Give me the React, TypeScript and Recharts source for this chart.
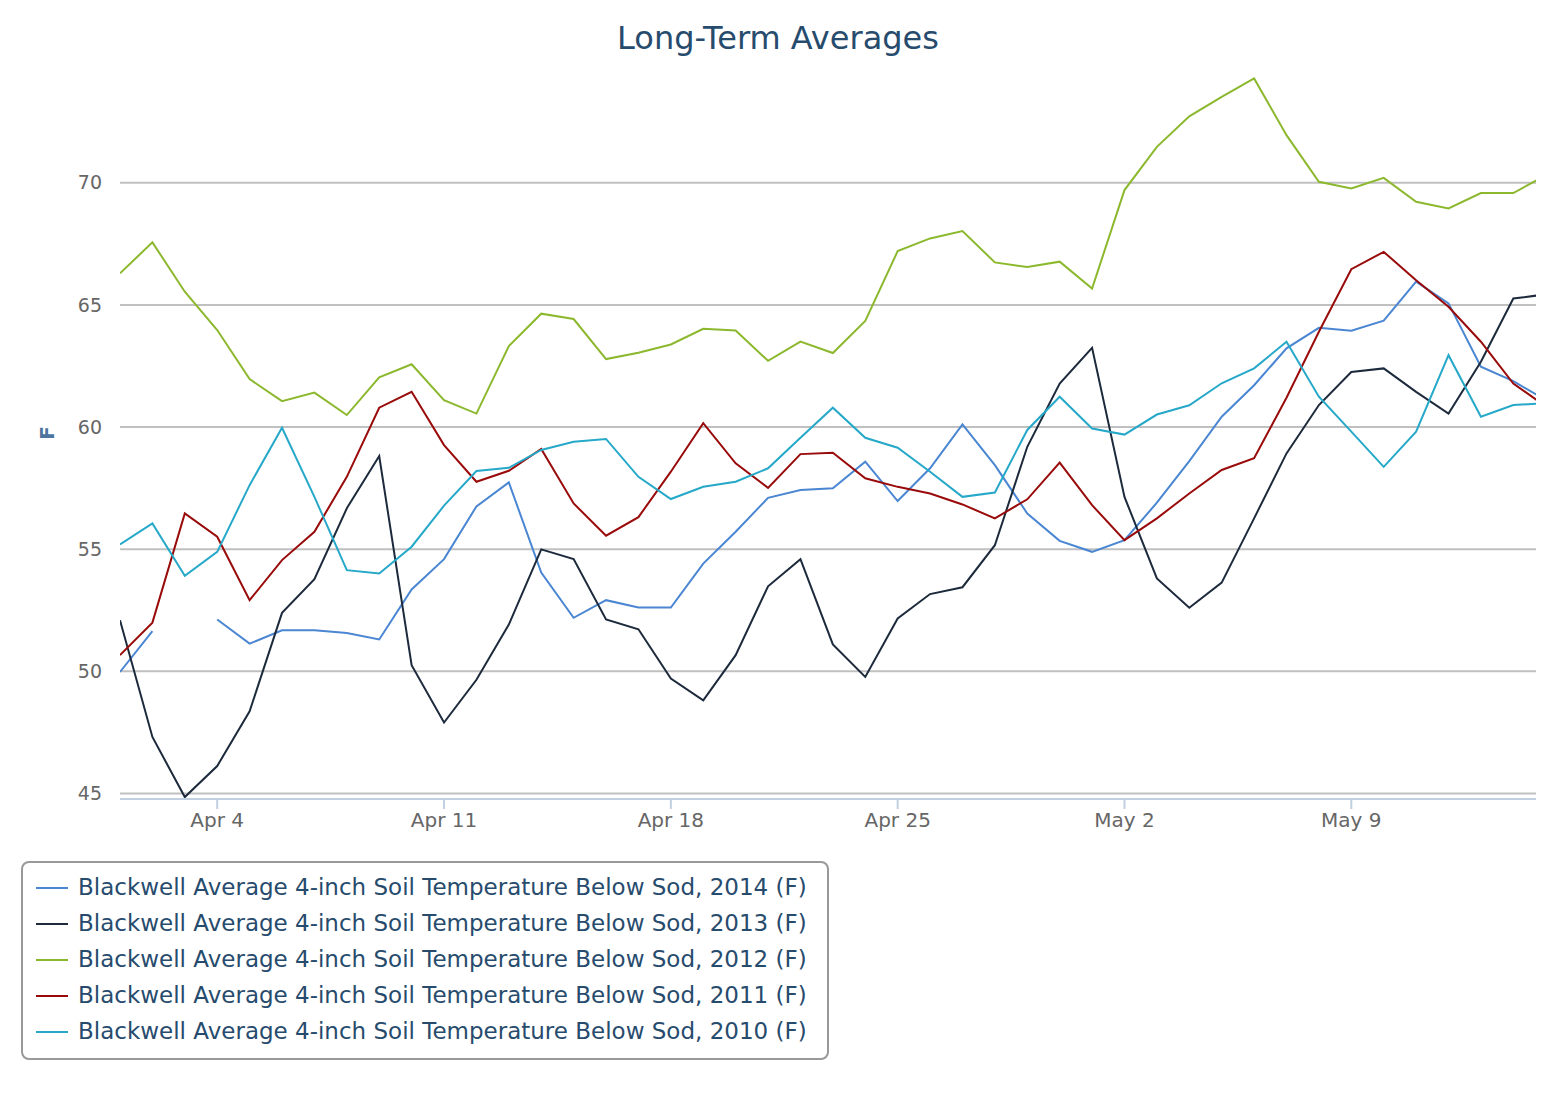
import { LineChart, Line, XAxis, YAxis, CartesianGrid } from 'recharts';

const FONT = "'DejaVu Sans', 'Lucida Grande', Verdana, sans-serif";

// one label per daily point, Apr 1 .. May 15
const dates = [
  'Apr 1', 'Apr 2', 'Apr 3', 'Apr 4', 'Apr 5', 'Apr 6', 'Apr 7', 'Apr 8', 'Apr 9', 'Apr 10',
  'Apr 11', 'Apr 12', 'Apr 13', 'Apr 14', 'Apr 15', 'Apr 16', 'Apr 17', 'Apr 18', 'Apr 19', 'Apr 20',
  'Apr 21', 'Apr 22', 'Apr 23', 'Apr 24', 'Apr 25', 'Apr 26', 'Apr 27', 'Apr 28', 'Apr 29', 'Apr 30',
  'May 1', 'May 2', 'May 3', 'May 4', 'May 5', 'May 6', 'May 7', 'May 8', 'May 9', 'May 10',
  'May 11', 'May 12', 'May 13', 'May 14', 'May 15',
];

// x ticks: Apr 4, Apr 11, Apr 18, Apr 25, May 2, May 9
const xTicks = [3, 10, 17, 24, 31, 38];
const yTicks = [45, 50, 55, 60, 65, 70];

const temps2014 = [
  49.97, 51.64, null, 52.12, 51.13, 51.68, 51.68, 51.57, 51.3, 53.35,
  54.59, 56.75, 57.73, 54.04, 52.19, 52.91, 52.61, 52.61, 54.41, 55.71,
  57.1, 57.42, 57.49, 58.58, 56.97, 58.31, 60.11, 58.44, 56.46, 55.34,
  54.89, 55.37, 56.9, 58.6, 60.42, 61.71, 63.22, 64.06, 63.94, 64.35,
  65.95, 65.06, 62.47, 61.88, 61.1,
];
const temps2013 = [
  52.09, 47.31, 44.85, 46.12, 48.36, 52.39, 53.77, 56.67, 58.81, 50.25,
  47.9, 49.65, 51.91, 54.99, 54.59, 52.12, 51.72, 49.7, 48.81, 50.66,
  53.48, 54.59, 51.1, 49.77, 52.16, 53.16, 53.44, 55.16, 59.19, 61.78,
  63.24, 57.14, 53.8, 52.6, 53.63, 56.26, 58.92, 60.9, 62.25, 62.4,
  61.44, 60.55, 62.67, 65.26, 65.43,
];
const temps2012 = [
  66.29, 67.56, 65.54, 63.97, 61.96, 61.06, 61.41, 60.49, 62.03, 62.57,
  61.1, 60.55, 63.31, 64.64, 64.42, 62.78, 63.04, 63.38, 64.02, 63.95,
  62.71, 63.5, 63.03, 64.34, 67.2, 67.72, 68.02, 66.74, 66.55, 66.77,
  65.67, 69.7, 71.47, 72.72, 73.52, 74.27, 71.95, 70.04, 69.77, 70.2,
  69.22, 68.95, 69.58, 69.58, 70.3,
];
const temps2011 = [
  50.66, 51.99, 56.46, 55.51, 52.91, 54.55, 55.71, 57.96, 60.79, 61.44,
  59.26, 57.76, 58.21, 59.1, 56.87, 55.55, 56.31, 58.17, 60.16, 58.51,
  57.51, 58.89, 58.95, 57.9, 57.55, 57.28, 56.83, 56.26, 57.04, 58.54,
  56.8, 55.37, 56.26, 57.28, 58.24, 58.72, 61.2, 63.9, 66.46, 67.17,
  66.01, 64.92, 63.49, 61.78, 60.84,
];
const temps2010 = [
  55.19, 56.05, 53.91, 54.89, 57.62, 59.97, 57.14, 54.14, 54.0, 55.1,
  56.78, 58.2, 58.33, 59.06, 59.4, 59.51, 57.96, 57.05, 57.55, 57.76,
  58.31, 59.56, 60.79, 59.56, 59.15, 58.17, 57.14, 57.32, 59.88, 61.24,
  59.94, 59.69, 60.51, 60.89, 61.79, 62.4, 63.49, 61.24, 59.81, 58.37,
  59.81, 62.94, 60.42, 60.9, 60.97,
];

const series = [
  { key: 'y2014', name: 'Blackwell Average 4-inch Soil Temperature Below Sod, 2014 (F)', color: '#4a86d2', values: temps2014 },
  { key: 'y2013', name: 'Blackwell Average 4-inch Soil Temperature Below Sod, 2013 (F)', color: '#1c2a3c', values: temps2013 },
  { key: 'y2012', name: 'Blackwell Average 4-inch Soil Temperature Below Sod, 2012 (F)', color: '#8cb82e', values: temps2012 },
  { key: 'y2011', name: 'Blackwell Average 4-inch Soil Temperature Below Sod, 2011 (F)', color: '#990a0a', values: temps2011 },
  { key: 'y2010', name: 'Blackwell Average 4-inch Soil Temperature Below Sod, 2010 (F)', color: '#26a8c9', values: temps2010 },
];

const data = dates.map((label, i) => {
  const row: Record<string, any> = { day: i, label };
  series.forEach(s => { row[s.key] = s.values[i]; });
  return row;
});

export default function App() {
  return (
    <div style={{ position: 'absolute', left: 0, top: 0, width: 1556, height: 1120, background: '#fff', fontFamily: FONT }}>
      <div style={{ position: 'absolute', top: 19, left: 0, width: 1556, textAlign: 'center', fontSize: 32, color: '#274b6d' }}>
        Long-Term Averages
      </div>

      <div style={{ position: 'absolute', left: 37, top: 421, width: 20, height: 24, lineHeight: '24px', textAlign: 'center', transform: 'rotate(-90deg)', color: '#4d759e', fontWeight: 'bold', fontSize: 20 }}>
        F
      </div>

      <div style={{ position: 'absolute', left: 0, top: 0 }}>
        <LineChart width={1556} height={850} data={data} margin={{ top: 66, right: 20, bottom: 11, left: 0 }}>
          <CartesianGrid vertical={false} horizontalValues={yTicks} stroke="#c0c0c0" strokeWidth={2} />
          <XAxis
            dataKey="day"
            type="number"
            domain={[0, 43.7]}
            allowDataOverflow
            ticks={xTicks}
            tickFormatter={(v) => dates[v]}
            height={40}
            stroke="#c0d0e0"
            strokeWidth={2}
            tickSize={10}
            tickMargin={4}
            tick={{ fill: '#666', fontSize: 20, fontFamily: FONT }}
          />
          <YAxis
            type="number"
            domain={[44.77, 74.78]}
            allowDataOverflow
            ticks={yTicks}
            width={120}
            axisLine={false}
            tickLine={false}
            tickSize={0}
            tickMargin={18}
            tick={{ fill: '#666', fontSize: 19, fontFamily: FONT }}
          />
          {series.map(s => (
            <Line
              key={s.key}
              dataKey={s.key}
              type="linear"
              stroke={s.color}
              strokeWidth={2}
              dot={false}
              activeDot={false}
              isAnimationActive={false}
            />
          ))}
        </LineChart>
      </div>

      <div style={{ position: 'absolute', left: 21, top: 861, width: 808, height: 199, boxSizing: 'border-box', border: '2px solid #999', borderRadius: 8 }}>
        {series.map((s, i) => (
          <div key={s.key} style={{ position: 'absolute', left: 0, top: 6 + i * 36, height: 36, width: 800 }}>
            <div style={{ position: 'absolute', left: 13, top: 18, width: 32, height: 2, background: s.color }} />
            <div style={{ position: 'absolute', left: 55, top: 0, lineHeight: '36px', fontSize: 23, color: '#274b6d', whiteSpace: 'nowrap' }}>
              {s.name}
            </div>
          </div>
        ))}
      </div>
    </div>
  );
}
